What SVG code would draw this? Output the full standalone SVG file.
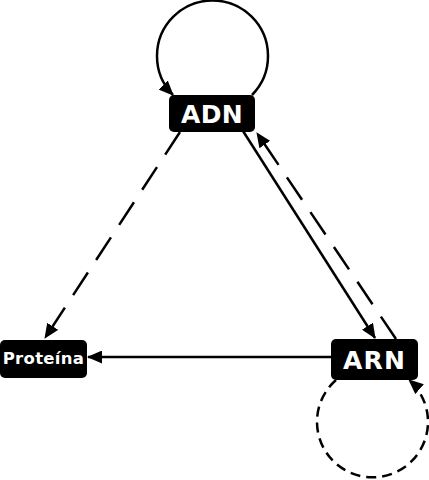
<svg xmlns="http://www.w3.org/2000/svg" width="429" height="480" viewBox="0 0 429 480">
<defs>
<style>
.box{fill:#000}
.lbl{fill:#fff;font-family:"DejaVu Sans",sans-serif;font-weight:bold;text-anchor:middle}
.e{fill:none;stroke:#000;stroke-width:2.5}
.d{stroke-dasharray:27,15}
.dc{stroke-dasharray:10,6}
</style>
<marker id="ah" viewBox="0 0 15 13" refX="14" refY="6.5" markerWidth="15" markerHeight="13" markerUnits="userSpaceOnUse" orient="auto">
<path d="M0,0 L15,6.5 L0,13 z" fill="#000"/>
</marker>
</defs>
<g id="connectors">
<path class="e" d="M 252 95 A 55.5 55.5 0 1 0 173 95" marker-end="url(#ah)"/>
<path class="e dc" d="M 336 380 A 55.5 55.5 0 1 0 409 380" marker-end="url(#ah)"/>
<line class="e d" x1="180" y1="132" x2="45" y2="338" marker-end="url(#ah)"/>
<line class="e" x1="243" y1="131" x2="375" y2="338" marker-end="url(#ah)"/>
<line class="e d" x1="396" y1="339" x2="257" y2="133" marker-end="url(#ah)"/>
<line class="e" x1="331" y1="357" x2="88" y2="357" marker-end="url(#ah)"/>
</g>
<g id="ADN">
<rect class="box" x="169" y="95" width="86" height="37" rx="5"/>
<text class="lbl" x="212" y="122.5" font-size="25" letter-spacing="0.3">ADN</text>
</g>
<g id="ARN">
<rect class="box" x="331" y="339" width="87" height="41" rx="5"/>
<text class="lbl" x="374.5" y="368.5" font-size="25" letter-spacing="1.2">ARN</text>
</g>
<g id="Proteina">
<rect class="box" x="0" y="340" width="87" height="38" rx="5"/>
<text class="lbl" x="43.5" y="363.5" font-size="16.5" letter-spacing="0.3">Proteína</text>
</g>
</svg>
